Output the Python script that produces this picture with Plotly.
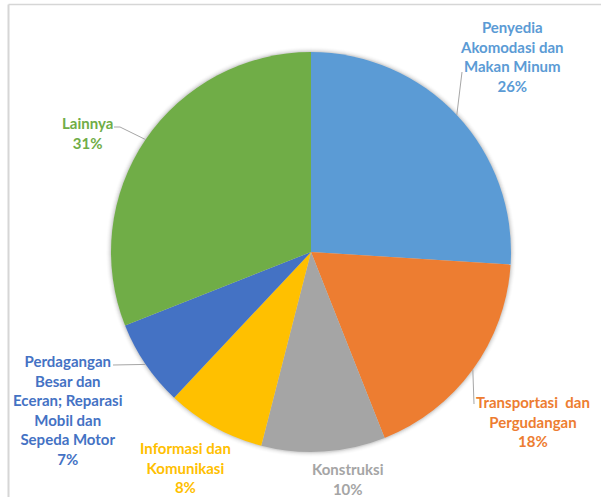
import math
import plotly.graph_objects as go

categories = [
    "Penyedia Akomodasi dan Makan Minum",
    "Transportasi dan Pergudangan",
    "Konstruksi",
    "Informasi dan Komunikasi",
    "Perdagangan Besar dan Eceran; Reparasi Mobil dan Sepeda Motor",
    "Lainnya",
]
values = [26, 18, 10, 8, 7, 31]
label_lines = [
    ["Penyedia", "Akomodasi dan", "Makan Minum"],
    ["Transportasi  dan", "Pergudangan"],
    ["Konstruksi"],
    ["Informasi dan", "Komunikasi"],
    ["Perdagangan", "Besar dan", "Eceran; Reparasi", "Mobil dan", "Sepeda Motor"],
    ["Lainnya"],
]
colors = ["#5B9BD5", "#ED7D31", "#A5A5A5", "#FFC000", "#4472C4", "#70AD47"]

# layout geometry (pixels)
W, H = 601, 497
L, R, T, B = 111, 90, 52, 45
PW, PH = W - L - R, H - T - B
CX, CY, RAD = L + PW / 2, T + PH / 2, min(PW, PH) / 2

def px2paper(x, y):
    return (x - L) / PW, (H - B - y) / PH

# label centres (pixels) and which labels get leader lines
label_pos = [(512, 57), (533, 421), (348, 479), (185, 467), (68, 410), (87, 133)]
leader_start = [(462, 72), (474, 404), None, None, (113, 365), (114, 127)]

fig = go.Figure()
fig.add_trace(go.Pie(
    labels=categories, values=values, sort=False, direction="clockwise",
    rotation=0, marker=dict(colors=colors, line=dict(width=0)),
    textinfo="none", hoverinfo="label+percent", showlegend=False,
))

shapes = []
# soft shadow around the pie
for i, op in enumerate([0.06, 0.045, 0.03, 0.02, 0.012]):
    rr = RAD + 1 + i
    x0, y0 = px2paper(CX - rr, CY + rr)
    x1, y1 = px2paper(CX + rr, CY - rr)
    shapes.append(dict(type="circle", xref="paper", yref="paper", x0=x0, y0=y0,
                       x1=x1, y1=y1, fillcolor=f"rgba(0,0,0,{op})",
                       line=dict(width=0), layer="below"))

total = sum(values)
cum = 0
annotations = []
for i, v in enumerate(values):
    mid = (cum + v / 2) / total * 2 * math.pi
    cum += v
    ex = CX + RAD * math.sin(mid)
    ey = CY - RAD * math.cos(mid)
    if leader_start[i] is not None:
        sx, sy = leader_start[i]
        pts = [(sx, sy)]
        if i == 5:
            pts.append((sx + 6, sy))
        pts.append((ex, ey))
        path = ""
        for j, (x, y) in enumerate(pts):
            px, py = px2paper(x, y)
            path += ("M" if j == 0 else "L") + f"{px},{py} "
        shapes.append(dict(type="path", xref="paper", yref="paper", path=path,
                           line=dict(color="#A6A6A6", width=1)))
    pct = round(v / total * 100)
    text = "<br>".join(f"<b>{t}</b>" for t in label_lines[i] + [f"{pct}%"])
    ax, ay = px2paper(*label_pos[i])
    annotations.append(dict(x=ax, y=ay, xref="paper", yref="paper", text=text,
                            showarrow=False, xanchor="center", yanchor="middle",
                            align="center",
                            font=dict(family="Lato", size=15, color=colors[i])))

# frame lines
fx0, fy0 = px2paper(8.5, 4.5)
fx1, fy1 = px2paper(W + 5, H + 5)
shapes.append(dict(type="line", xref="paper", yref="paper", x0=fx0, y0=fy0, x1=fx1, y1=fy0,
                   line=dict(color="#D6D6D6", width=1.5)))
shapes.append(dict(type="line", xref="paper", yref="paper", x0=fx0, y0=fy0, x1=fx0, y1=fy1,
                   line=dict(color="#D6D6D6", width=2)))

fig.update_layout(
    width=W, height=H, margin=dict(l=L, r=R, t=T, b=B),
    paper_bgcolor="white", plot_bgcolor="white",
    shapes=shapes, annotations=annotations,
)
fig.write_html("out.html", config={"displayModeBar": False},
               post_script="document.body.style.margin='0';document.body.style.overflow='hidden';")
